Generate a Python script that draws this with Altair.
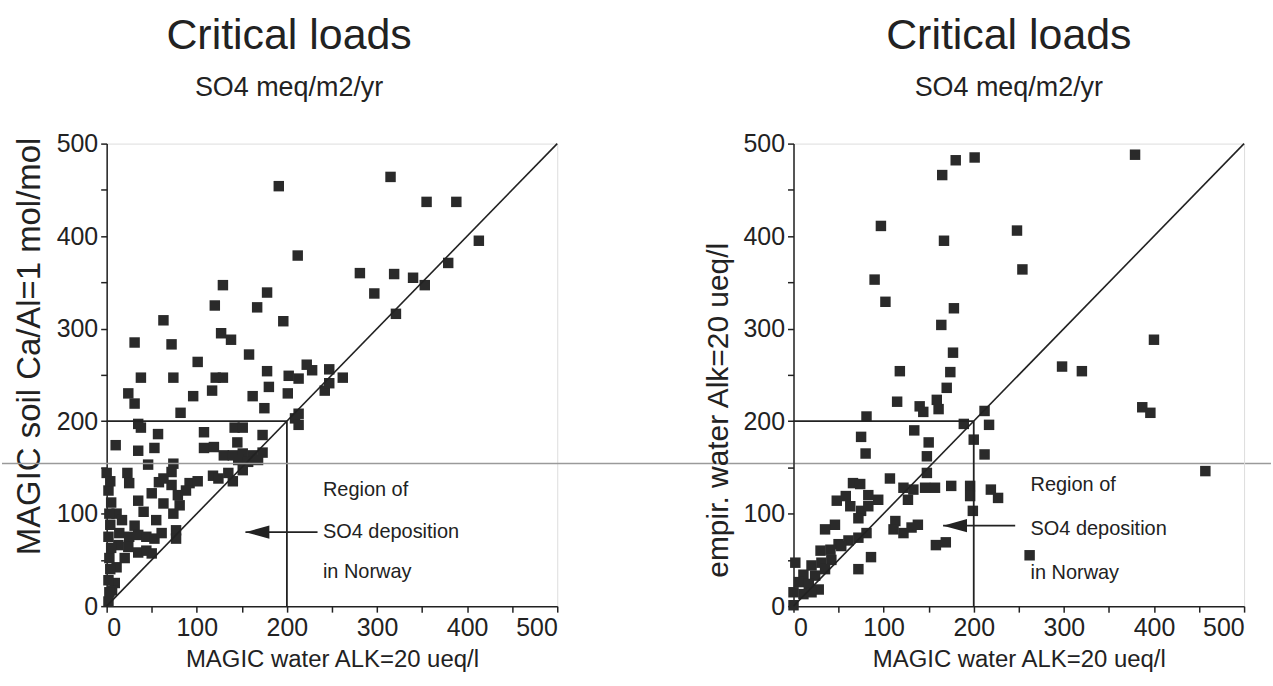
import altair as alt
import pandas as pd

FONT = "Liberation Sans"
INK = "#222222"

# ---------------- data ----------------
left_x = [191, 212, 129, 178, 315, 355, 388, 413, 379, 281, 319, 340, 353, 297, 321, 228, 247, 262, 242, 247,
          120, 167, 63, 196, 31, 72, 127, 138, 158, 101, 222, 38, 74, 121, 129, 178, 202, 213, 180, 201,
          24, 31, 96, 117, 162, 175, 82, 35, 38, 213, 209, 213, 57, 108, 142, 151, 173, 10, 35, 53,
          108, 119, 145, 130, 140, 151, 162, 173, 146, 157, 168, 151, 46, 74, 0, 23, 72, 118, 135, 25,
          58, 72, 92, 101, 124, 140, 63, 35, 50, 63, 79, 88, 41, 55, 74, 81, 11, 17, 31, 14,
          25, 35, 44, 53, 61, 77, 77, 13, 24, 35, 44, 50, 20, 11, 9, 6,
          2, 3, 2, 4, 3, 5, 2, 4, 3, 5, 2, 4]
left_y = [454, 379, 347, 339, 464, 437, 437, 395, 371, 360, 359, 355, 347, 338, 316, 255, 256, 247, 233, 241,
          325, 323, 309, 308, 285, 283, 295, 288, 272, 264, 261, 247, 247, 247, 247, 254, 249, 246, 237, 230,
          230, 219, 227, 233, 227, 214, 209, 197, 193, 208, 203, 196, 186, 188, 193, 193, 185, 174, 168, 171,
          171, 172, 177, 163, 163, 165, 163, 166, 158, 156, 158, 147, 153, 154, 144, 144, 145, 141, 144, 133,
          134, 131, 133, 135, 138, 135, 138, 114, 122, 111, 120, 125, 102, 93, 100, 109, 100, 93, 87, 79,
          75, 77, 75, 73, 79, 82, 73, 66, 64, 58, 60, 57, 52, 42, 25, 17,
          5, 15, 28, 40, 52, 63, 75, 88, 100, 112, 125, 135]

right_x = [180, 201, 165, 97, 167, 248, 90, 379, 254, 400, 298, 320, 387, 396, 457, 262,
           102, 178, 164, 177, 174, 118, 170, 115, 159, 161, 140, 144, 81, 212, 189, 217, 134, 75, 200, 150,
           80, 148, 212, 148, 107, 66,
           74, 122, 133, 146, 157, 175, 196, 196, 219, 227, 199, 127, 48, 58, 83, 94, 63, 75, 83, 72,
           46, 35, 113, 111, 122, 131, 138, 158, 169, 81, 72, 61, 50, 41, 30, 86, 72, 53, 42, 31,
           20, 11, 24, 35, 6, 17, 28, 2, 0, 0, 11, 20]
right_y = [482, 485, 466, 411, 395, 406, 353, 488, 364, 288, 259, 254, 215, 209, 146, 55,
           329, 322, 304, 274, 253, 254, 236, 221, 223, 213, 216, 210, 205, 211, 197, 196, 190, 183, 180, 177,
           165, 162, 164, 144, 138, 133,
           132, 128, 126, 128, 128, 130, 130, 119, 126, 117, 103, 115, 114, 119, 120, 115, 108, 103, 108, 95,
           88, 83, 92, 83, 79, 85, 88, 66, 69, 79, 74, 71, 67, 61, 60, 53, 40, 65, 50, 47,
           44, 34, 33, 40, 26, 24, 18, 47, 15, 1, 13, 15]

diag_x = [0, 500]
diag_y = [0, 500]

ref_x = [0, 200]
ref_x2 = [200, 200]
ref_y = [200, 0]
ref_y2 = [200, 200]

note_lines = ["Region of", "SO4 deposition", "in Norway"]
left_note_x = 240
left_note_y = [125, 80, 37]
left_arrow = {"tail": 234, "tip": 154, "y": 80}
right_note_x = 263
right_note_y = [131, 83, 36]
right_arrow = {"tail": 246, "tip": 166, "y": 87}

tick_values = [0, 50, 100, 150, 200, 250, 300, 350, 400, 450, 500]

W, H = 452, 464


def panel(xs, ys, ytitle, ytitle_size, ytitle_y, title_dx, note_x, note_y, arrow, scan_line=False):
    sx = alt.Scale(domain=[0, 500], nice=False, zero=False)
    sy = alt.Scale(domain=[0, 500], nice=False, zero=False)
    common = dict(values=tick_values, labelExpr="datum.value % 100 == 0 ? datum.label : ''",
                  grid=False, tickSize=6, tickColor=INK, tickWidth=1.5, domainColor=INK, domainWidth=1.5,
                  labelFont=FONT, labelFontSize=25, labelColor=INK, labelPadding=3,
                  titleFont=FONT, titleFontWeight="normal", titleColor=INK)
    xaxis = alt.Axis(title="MAGIC water ALK=20 ueq/l", titleFontSize=24, titlePadding=8, **common)
    yaxis = alt.Axis(title=ytitle, titleFontSize=ytitle_size, titlePadding=10, titleY=ytitle_y, **common)
    X = alt.X("x:Q", scale=sx, axis=xaxis)
    Y = alt.Y("y:Q", scale=sy, axis=yaxis)

    pts = alt.Chart(pd.DataFrame({"x": xs, "y": ys})).mark_square(
        size=110, color="#2a2a2a", opacity=1, filled=True).encode(x=X, y=Y)

    diag = alt.Chart(pd.DataFrame({"x": diag_x, "y": diag_y})).mark_line(
        color=INK, strokeWidth=1.6).encode(x=X, y=Y)

    refs = alt.Chart(pd.DataFrame({"x": ref_x, "x2": ref_x2, "y": ref_y, "y2": ref_y2})).mark_rule(
        color=INK, strokeWidth=1.8).encode(x=X, x2="x2:Q", y=Y, y2="y2:Q")

    adf = pd.DataFrame({"x": [arrow["tail"]], "x2": [arrow["tip"]], "y": [arrow["y"]]})
    arr = alt.Chart(adf).mark_rule(color=INK, strokeWidth=1.6).encode(x=X, x2="x2:Q", y=Y)
    head = alt.Chart(pd.DataFrame({"x": [arrow["tip"]], "y": [arrow["y"]]})).mark_point(
        shape="M0,0L2,-0.55L2,0.55Z", size=576, filled=True, color=INK, opacity=1).encode(x=X, y=Y)

    tdf = pd.DataFrame({"x": [note_x] * 3, "y": note_y, "t": note_lines})
    txt = alt.Chart(tdf).mark_text(align="left", baseline="middle", font=FONT, fontSize=20,
                                   color=INK).encode(x=X, y=Y, text="t:N")

    layers = [pts, diag, refs, arr, head, txt]
    if scan_line:
        sl = alt.Chart(pd.DataFrame({"x": [0]})).mark_rule(color="#9a9a9a", strokeWidth=1.5).encode(
            x=alt.value(-105), x2=alt.value(1168), y=alt.value(321))
        layers.append(sl)

    return alt.layer(*layers).properties(
        width=W, height=H,
        title=alt.TitleParams(text="Critical loads", subtitle="SO4 meq/m2/yr", anchor="middle",
                              font=FONT, fontSize=43, fontWeight="normal", color=INK,
                              subtitleFont=FONT, subtitleFontSize=27, subtitleColor=INK,
                              subtitlePadding=17, offset=31, dx=title_dx))


left = panel(left_x, left_y, "MAGIC soil Ca/Al=1 mol/mol", 33, 203, -43,
             left_note_x, left_note_y, left_arrow, scan_line=True)
right = panel(right_x, right_y, "empir. water Alk=20 ueq/l", 30, 267, -10,
              right_note_x, right_note_y, right_arrow)

chart = alt.hconcat(left, right, spacing=237, bounds="flush").properties(
    padding={"left": 0, "top": 13, "right": 0, "bottom": 0}
).configure_view(stroke=INK, strokeWidth=1.5).configure(background="white")

chart.save("out.html", embed_options={"renderer": "svg", "actions": False})
